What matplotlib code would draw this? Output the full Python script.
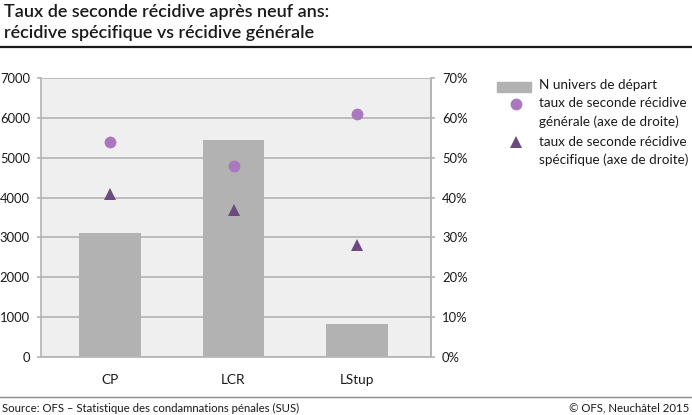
import matplotlib
matplotlib.use("Agg")
import matplotlib.pyplot as plt
from matplotlib.ticker import FuncFormatter
from matplotlib.lines import Line2D
from matplotlib.patches import Rectangle

plt.rcParams['font.family'] = ['Lato', 'DejaVu Sans']

categories = ["CP", "LCR", "LStup"]
n_univers = [3110, 5440, 820]
taux_general = [54, 48, 61]
taux_specifique = [41, 37, 28]
left_ticks = [0, 1000, 2000, 3000, 4000, 5000, 6000, 7000]
right_ticks = [0, 10, 20, 30, 40, 50, 60, 70]

W, H = 692, 415
fig = plt.figure(figsize=(W / 100, H / 100), dpi=100)

bar_col = "#b2b2b2"
bg_col = "#efefef"
grid_col = "#b4b4b4"
circ_col = "#ab78bf"
tri_col = "#6b4a7e"
txt_col = "#1a1a1a"

ax = fig.add_axes([41 / W, (H - 357) / H, 390 / W, 279 / H])
ax.set_facecolor(bg_col)
x = list(range(len(categories)))
ax.bar(x, n_univers, width=0.5, color=bar_col, zorder=2)
ax.set_xlim(-0.56, 2.6)
ax.set_ylim(0, 7000)
ax.set_yticks(left_ticks)
ax.set_yticklabels([str(v) for v in left_ticks])
ax.set_xticks(x)
ax.set_xticklabels(categories)
ax.grid(axis='y', color=grid_col, linewidth=1.2, zorder=1)
ax.set_axisbelow(True)
ax.spines['top'].set_visible(False)
for s in ['left', 'right', 'bottom']:
    ax.spines[s].set_color(grid_col)
    ax.spines[s].set_linewidth(1.2)
ax.tick_params(axis='y', length=3, width=1.2, color=grid_col, labelsize=9.4,
               labelcolor=txt_col, pad=5)
ax.tick_params(axis='x', length=0, labelsize=9.8, labelcolor=txt_col, pad=12)

ax2 = ax.twinx()
ax2.set_ylim(0, 70)
ax2.set_yticks(right_ticks)
ax2.yaxis.set_major_formatter(FuncFormatter(lambda v, p: f"{int(v)}%"))
for s in ['top', 'left', 'bottom']:
    ax2.spines[s].set_visible(False)
ax2.spines['right'].set_color(grid_col)
ax2.spines['right'].set_linewidth(1.2)
ax2.tick_params(axis='y', length=3, width=1.2, color=grid_col, labelsize=9.4,
                labelcolor=txt_col, pad=5)
ax2.plot(x, taux_general, linestyle='none', marker='o', markersize=8.5,
         color=circ_col, markeredgewidth=0, zorder=3)
ax2.plot(x, taux_specifique, linestyle='none', marker='^', markersize=8.5,
         color=tri_col, markeredgewidth=0, zorder=3)

# Title
fig.text(4 / W, 1 - 12 / H, "Taux de seconde récidive après neuf ans:",
         ha='left', va='center', fontsize=13, fontweight='semibold', color=txt_col)
fig.text(4 / W, 1 - 33 / H, "récidive spécifique vs récidive générale",
         ha='left', va='center', fontsize=13, fontweight='semibold', color=txt_col)
fig.add_artist(Line2D([0, 1], [1 - 47.5 / H] * 2, color="#1a1a1a", linewidth=1.6))

# Legend (manual)
fig.add_artist(Rectangle((497 / W, 1 - 92 / H), 34 / W, 10 / H, color=bar_col,
                         transform=fig.transFigure))
fig.add_artist(Line2D([516 / W], [1 - 104 / H], marker='o', markersize=8.5,
                      color=circ_col, markeredgewidth=0, linestyle='none'))
fig.add_artist(Line2D([516 / W], [1 - 142 / H], marker='^', markersize=8.5,
                      color=tri_col, markeredgewidth=0, linestyle='none'))
leg_fs = 9.7
legend_rows = [
    ("N univers de départ", 85),
    ("taux de seconde récidive", 103),
    ("générale (axe de droite)", 122),
    ("taux de seconde récidive", 142),
    ("spécifique (axe de droite)", 160),
]
for label, yy in legend_rows:
    fig.text(539 / W, 1 - yy / H, label, ha='left', va='center',
             fontsize=leg_fs, color=txt_col)

# Footer
fig.add_artist(Line2D([0, 1], [1 - 396.5 / H] * 2, color="#8a8a8a", linewidth=1.0))
fig.text(2 / W, 1 - 408 / H, "Source: OFS – Statistique des condamnations pénales (SUS)",
         ha='left', va='center', fontsize=8.2, color=txt_col)
fig.text(689 / W, 1 - 408 / H, "© OFS, Neuchâtel 2015",
         ha='right', va='center', fontsize=8.2, color=txt_col)

fig.savefig("out.png", dpi=100)
